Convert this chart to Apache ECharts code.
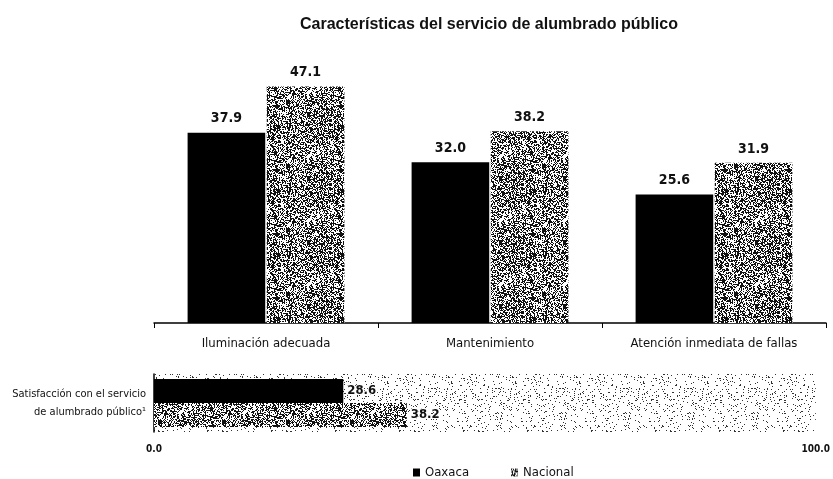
<!DOCTYPE html>
<html>
<head>
<meta charset="utf-8">
<script src="https://cdn.jsdelivr.net/npm/echarts@6/dist/echarts.min.js"></script>
<style>
  html, body { margin: 0; padding: 0; background: #fff; }
  #chart { width: 833px; height: 479px; }
</style>
</head>
<body>
<div id="chart"></div>
<script>
const categories = ["Iluminación adecuada", "Mantenimiento", "Atención inmediata de fallas"]
const oaxacaValues = [37.9, 32.0, 25.6]
const nacionalValues = [47.1, 38.2, 31.9]

const satisfaccionLabel = ["Satisfacción con el servicio\nde alumbrado público¹"]
const satisfaccionOaxaca = [28.6]
const satisfaccionNacional = [38.2]
const satisfaccionTicks = [0, 100]

const narrow = "'Liberation Sans Narrow', 'DejaVu Sans Condensed', 'Liberation Sans', sans-serif"

// fixed speckle textures (scanned print look)
const hash = (x, y, s) => {
  let h = Math.imul(x, 374761393) + Math.imul(y, 668265263) + Math.imul(s, 982451653)
  h = Math.imul(h ^ (h >>> 13), 1274126177)
  return ((h ^ (h >>> 16)) >>> 0) / 4294967296
}
const makeTexture = (size, density, seed, ink) => {
  const c = document.createElement("canvas")
  c.width = size
  c.height = size
  const ctx = c.getContext("2d")
  ctx.fillStyle = "#fff"
  ctx.fillRect(0, 0, size, size)
  ctx.fillStyle = ink
  for (let y = 0; y < size; y++) {
    for (let x = 0; x < size; x++) {
      if (hash(x, y, seed) < density) ctx.fillRect(x, y, 1, 1)
    }
  }
  return c
}
const nacionalFill = { image: makeTexture(64, 0.5, 7, "#111"), repeat: "repeat" }
const trackFill = { image: makeTexture(64, 0.08, 3, "#333"), repeat: "repeat" }

const valueLabel = (pos, size) => ({
  show: true,
  position: pos,
  distance: pos === "top" ? 7 : 4,
  fontFamily: narrow,
  fontSize: size,
  fontWeight: "bold",
  color: "#111",
  textBorderColor: "#fff",
  textBorderWidth: pos === "top" ? 0 : 2,
  formatter: (p) => p.value.toFixed(1)
})

const chart = echarts.init(document.getElementById("chart"))
chart.setOption({
  animation: false,
  title: {
    text: "Características del servicio de alumbrado público",
    left: 484,
    textAlign: "center",
    top: 12,
    textStyle: { fontFamily: "'Liberation Sans', sans-serif", fontSize: 16, fontWeight: "bold", color: "#111" }
  },
  legend: {
    data: ["Oaxaca", "Nacional"],
    left: 408,
    top: 461,
    icon: "rect",
    itemWidth: 7,
    itemHeight: 8,
    itemGap: 42,
    textStyle: { fontFamily: narrow, fontSize: 13, color: "#111" }
  },
  grid: [
    { left: 154, right: 7, top: 72, bottom: 156 },
    { left: 154, right: 14, top: 374, height: 58, show: true, borderWidth: 0, backgroundColor: trackFill }
  ],
  xAxis: [
    {
      gridIndex: 0,
      type: "category",
      data: categories,
      axisLine: { lineStyle: { color: "#000", width: 1.5 } },
      axisTick: { show: true, length: 5, lineStyle: { color: "#000" } },
      axisLabel: { margin: 14, fontFamily: narrow, fontSize: 13, color: "#111" }
    },
    {
      gridIndex: 1,
      type: "value",
      min: satisfaccionTicks[0],
      max: satisfaccionTicks[1],
      interval: 100,
      axisLine: { show: false },
      axisTick: { show: false },
      splitLine: { show: false },
      axisLabel: {
        margin: 12,
        fontFamily: narrow,
        fontSize: 10,
        fontWeight: "bold",
        color: "#111",
        formatter: (v) => v.toFixed(1)
      }
    }
  ],
  yAxis: [
    { gridIndex: 0, type: "value", min: 0, max: 50, show: false },
    {
      gridIndex: 1,
      type: "category",
      data: satisfaccionLabel,
      axisLine: { show: true, lineStyle: { color: "#000", width: 1.5 } },
      axisTick: { show: false },
      axisLabel: { margin: 8, fontFamily: narrow, fontSize: 11, lineHeight: 18, color: "#111" }
    }
  ],
  series: [
    {
      name: "Oaxaca",
      type: "bar",
      xAxisIndex: 0,
      yAxisIndex: 0,
      data: oaxacaValues,
      barGap: "2%",
      barCategoryGap: "30%",
      itemStyle: { color: "#000" },
      label: valueLabel("top", 14)
    },
    {
      name: "Nacional",
      type: "bar",
      xAxisIndex: 0,
      yAxisIndex: 0,
      data: nacionalValues,
      itemStyle: { color: nacionalFill },
      label: valueLabel("top", 14)
    },
    {
      name: "Oaxaca",
      type: "bar",
      xAxisIndex: 1,
      yAxisIndex: 1,
      data: satisfaccionOaxaca,
      barWidth: 24,
      barGap: "0%",
      itemStyle: { color: "#000" },
      label: valueLabel("right", 13)
    },
    {
      name: "Nacional",
      type: "bar",
      xAxisIndex: 1,
      yAxisIndex: 1,
      data: satisfaccionNacional,
      barWidth: 24,
      itemStyle: { color: nacionalFill },
      label: valueLabel("right", 13)
    }
  ]
})
</script>
</body>
</html>
